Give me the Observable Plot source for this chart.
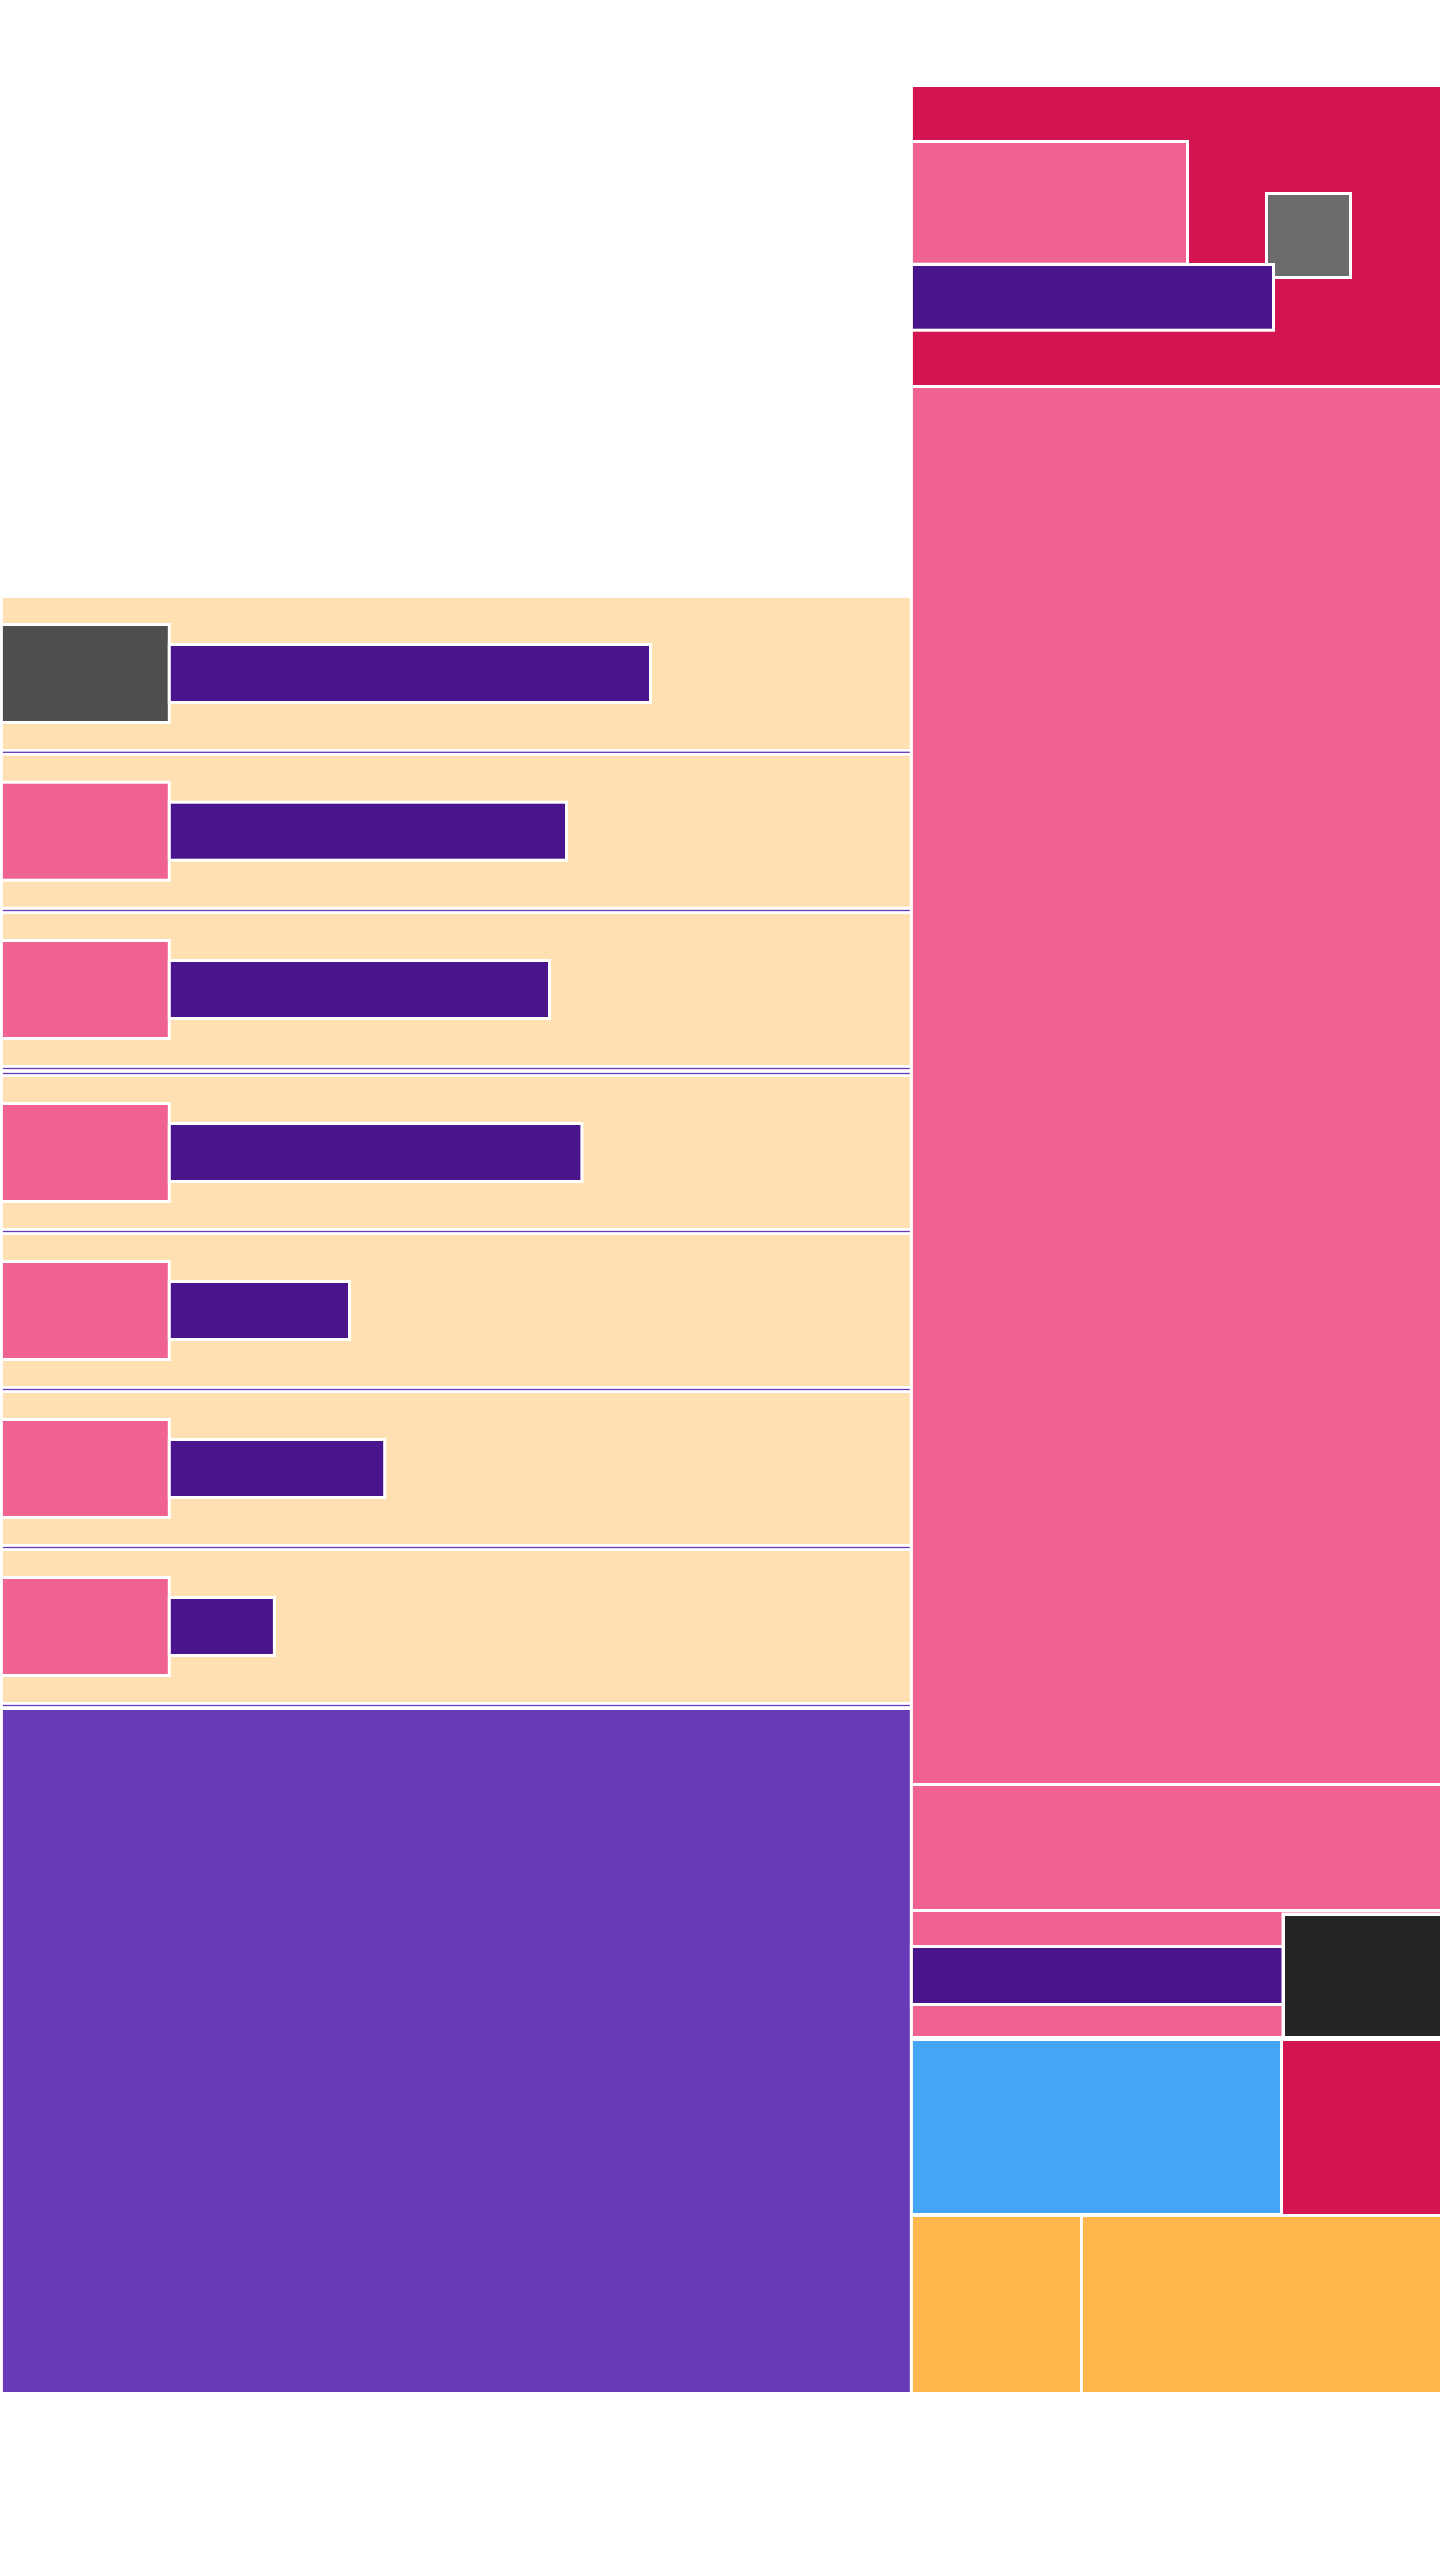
<!DOCTYPE html>
<html>
<head>
<meta charset="utf-8">
<script src="https://cdn.jsdelivr.net/npm/d3@7"></script>
<script src="https://cdn.jsdelivr.net/npm/@observablehq/plot@0.6"></script>
<style>
  html, body { margin: 0; padding: 0; background: #ffffff; }
  #chart svg { display: block; }
</style>
</head>
<body>
<div id="chart"></div>
<script>
// ---- categories & palette ----
const kinds      = ["halo", "cream", "rose", "crimson", "indigo", "violet", "graphite", "slate", "ink", "sky", "amber"];
const kindColors = ["#ffffff", "#ffe0b2", "#f06292", "#d41552", "#4a148c", "#673ab7", "#4f4f4f", "#6c6c6c", "#252525", "#42a5f5", "#ffb74d"];

// ---- left column: seven rows (icon + bar) ----
const rowTop      = [598, 755.7, 914, 1077, 1235, 1393, 1551];
const rowIconKind = ["graphite", "rose", "rose", "rose", "rose", "rose", "rose"];
const rowBarEnd   = [649, 565, 548, 580.4, 348, 383.2, 272.9];
const dividerY    = [752.3, 910.5, 1068.5, 1073.5, 1231.5, 1389.5, 1547.5, 1705.5];

// ---- blocks (draw order) ----
const blockKind = ["violet", "crimson", "rose", "slate", "indigo", "rose", "rose", "rose", "indigo", "ink", "sky", "crimson", "amber", "amber"];
const blockX1   = [2.9, 912.9, 912.9, 1268, 912.9, 912.9, 912.9, 912.9, 912.9, 1285, 912.9, 1283, 912.9, 1082.9];
const blockX2   = [909.8, 1440, 1186, 1349, 1272, 1440, 1440, 1440, 1282, 1440, 1280, 1440, 1080, 1440];
const blockY1   = [1710, 87, 143, 195, 266, 388, 1786, 1912, 1948, 1916, 2041, 2041, 2217, 2217];
const blockY2   = [2392, 385, 262.7, 276, 328.7, 1783, 1909, 2036, 2003, 2036, 2213, 2214, 2392, 2392];
const blockHalo = [0, 0, 3, 3, 3, 0, 0, 0, 3, 3.5, 0, 0, 0, 0];

// ---- build table ----
const cells = [];
function push(kind, x1, x2, y1, y2, halo) {
  if (halo > 0) cells.push({kind: "halo", x1: x1 - halo, x2: x2 + halo, y1: y1 - halo, y2: y2 + halo});
  cells.push({kind, x1, x2, y1, y2});
}
const leftX1 = 2.9, leftX2 = 909.8, rowH = 151;
const iconX2 = 167.8, barX1 = 170.8;
rowTop.forEach((t, i) => {
  push("cream", leftX1, leftX2, t, t + rowH, 0);
  push(rowIconKind[i], leftX1, iconX2, t + 28, t + 123, 3);
  push("indigo", barX1, rowBarEnd[i], t + 48, t + 103, 3);
});
blockKind.forEach((k, i) => push(k, blockX1[i], blockX2[i], blockY1[i], blockY2[i], blockHalo[i]));
dividerY.forEach(y => cells.push({kind: "violet", x1: leftX1, x2: leftX2, y1: y - 0.65, y2: y + 0.65}));

const chart = Plot.plot({
  width: 1440,
  height: 2560,
  margin: 0,
  style: {background: "#ffffff"},
  x: {domain: [0, 1440], range: [0, 1440], axis: null},
  y: {domain: [0, 2560], range: [0, 2560], axis: null},
  color: {domain: kinds, range: kindColors},
  marks: [
    Plot.rect(cells, {x1: "x1", x2: "x2", y1: "y1", y2: "y2", fill: "kind"})
  ]
});
document.getElementById("chart").appendChild(chart);
</script>
</body>
</html>
